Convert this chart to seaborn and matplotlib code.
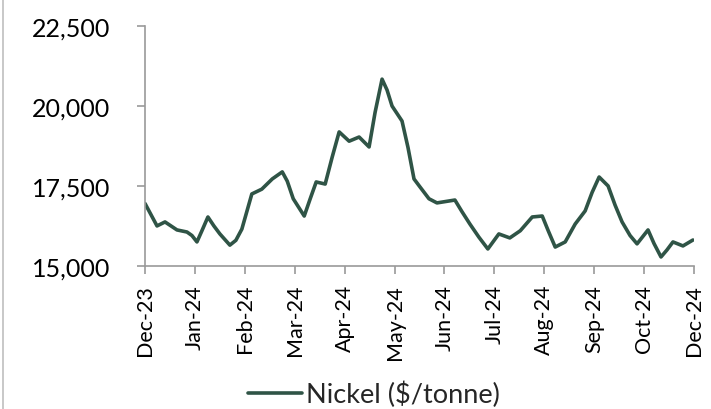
import numpy as np
import pandas as pd
import seaborn as sns
import matplotlib.pyplot as plt
from matplotlib.lines import Line2D
from matplotlib.ticker import FuncFormatter

sns.set_theme(style="white")
plt.rcParams['font.family'] = ['Lato', 'DejaVu Sans']

# Time position in units of the label interval (0 = Dec-23 ... 11 = Dec-24)
t = [0.00, 0.12, 0.24, 0.40, 0.52, 0.64, 0.84, 0.94, 1.04, 1.14, 1.26, 1.38,
     1.50, 1.70, 1.82, 1.94, 2.04, 2.14, 2.34, 2.55, 2.75, 2.85, 2.97, 3.19,
     3.31, 3.43, 3.61, 3.75, 3.89, 4.09, 4.29, 4.49, 4.61, 4.75, 4.85, 4.95,
     5.15, 5.27, 5.39, 5.51, 5.69, 5.85, 6.21, 6.35, 6.51, 6.69, 6.87, 7.09,
     7.31, 7.52, 7.76, 7.96, 8.08, 8.22, 8.42, 8.62, 8.82, 8.96, 9.10, 9.28,
     9.42, 9.56, 9.72, 9.86, 10.08, 10.20, 10.34, 10.46, 10.58, 10.78, 10.98]
nickel = [16950, 16600, 16250, 16375, 16250, 16125, 16060, 15950, 15750, 16100,
          16530, 16250, 16000, 15650, 15800, 16150, 16700, 17250, 17400, 17720,
          17940, 17650, 17100, 16560, 17100, 17625, 17560, 18400, 19190, 18900,
          19030, 18720, 19800, 20840, 20500, 20000, 19530, 18700, 17720, 17470,
          17100, 16970, 17060, 16700, 16310, 15900, 15530, 16000, 15875, 16100,
          16530, 16560, 16100, 15590, 15750, 16310, 16720, 17300, 17780, 17500,
          16900, 16375, 15950, 15690, 16125, 15700, 15280, 15500, 15750, 15625,
          15810]
tick_labels = ['Dec-23', 'Jan-24', 'Feb-24', 'Mar-24', 'Apr-24', 'May-24',
               'Jun-24', 'Jul-24', 'Aug-24', 'Sep-24', 'Oct-24', 'Dec-24']

df = pd.DataFrame({'t': t, 'Nickel ($/tonne)': nickel})

fig = plt.figure(figsize=(7.11, 4.10), dpi=100)
ax = fig.add_axes([0.204, 0.349, 0.772, 0.585])

sns.lineplot(data=df, x='t', y='Nickel ($/tonne)', ax=ax, color='#2F5446',
             linewidth=2.6, label='Nickel ($/tonne)', solid_joinstyle='round',
             solid_capstyle='round')

ax.set_xlim(0, 11)
ax.set_ylim(15000, 22500)
ax.set_yticks([15000, 17500, 20000, 22500])
ax.yaxis.set_major_formatter(FuncFormatter(lambda v, p: f'{v:,.0f}'))
ax.set_xticks(range(len(tick_labels)))
ax.set_xticklabels(tick_labels, rotation=90)
ax.set_xlabel('')
ax.set_ylabel('')

for s in ['top', 'right']:
    ax.spines[s].set_visible(False)
for s in ['left', 'bottom']:
    ax.spines[s].set_color('#9A9A9A')
    ax.spines[s].set_linewidth(1.2)
ax.tick_params(axis='both', which='major', direction='out', length=6,
               width=1.2, color='#9A9A9A', labelcolor='black',
               bottom=True, left=True)
ax.tick_params(axis='y', labelsize=18, pad=19)
ax.tick_params(axis='x', labelsize=15.5, pad=7)

ax.legend(loc='center', bbox_to_anchor=(0.417, -0.535), frameon=False,
          fontsize=19.5, handlelength=2.0, handletextpad=0.15)

fig.add_artist(Line2D([0.004, 0.004], [0, 1], color='#BFBFBF', linewidth=1.2))

plt.savefig('out.png', dpi=100)
